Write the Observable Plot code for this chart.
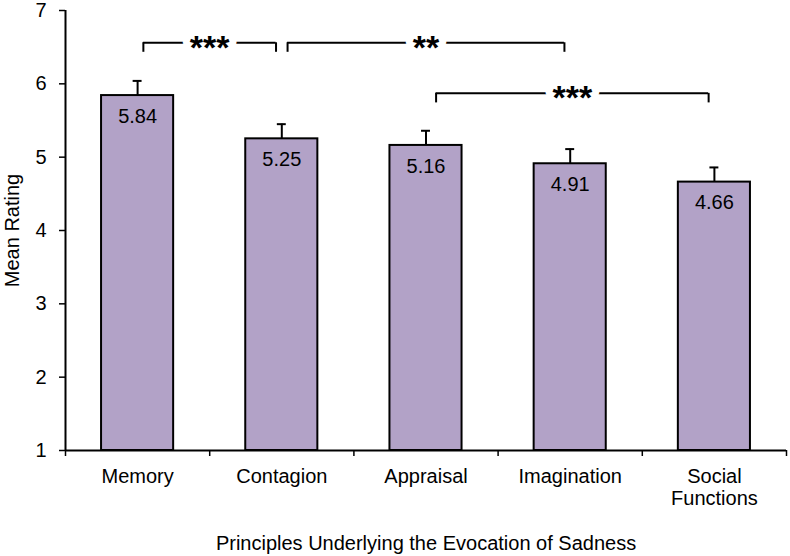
<!DOCTYPE html>
<html>
<head>
<meta charset="utf-8">
<script src="https://cdn.jsdelivr.net/npm/d3@7"></script>
<script src="https://cdn.jsdelivr.net/npm/@observablehq/plot@0.6"></script>
<style>
  html, body { margin: 0; padding: 0; background: #fff; }
  #chart { width: 790px; height: 556px; }
</style>
</head>
<body>
<div id="chart"></div>
<script>
// ---- data ----
const categories = ["Memory", "Contagion", "Appraisal", "Imagination", "Social Functions"];
const means = [5.84, 5.25, 5.16, 4.91, 4.66];
const errors = [0.20, 0.20, 0.20, 0.20, 0.20];
const yTicks = [1, 2, 3, 4, 5, 6, 7];
const bracketFrom = ["Memory", "Contagion", "Appraisal"];
const bracketTo = ["Contagion", "Imagination", "Social Functions"];
const bracketLabels = ["***", "**", "***"];
const bracketTier = [0, 0, 1];

// ---- build ----
const data = categories.map((c, i) => ({cat: c, i, mean: means[i], err: errors[i]}));
const idx = c => categories.indexOf(c);
const tierY = [6.56, 5.87];
const tickDrop = 0.13;
const brackets = bracketFrom.map((f, k) => ({
  x1: idx(f) + 0.5 + (bracketTier[k] ? 0.07 : 0.04),
  x2: idx(bracketTo[k]) + 0.5 - 0.04,
  y: tierY[bracketTier[k]],
  label: bracketLabels[k]
}));
const bracketDrops = brackets.flatMap(b => [{x: b.x1, y: b.y}, {x: b.x2, y: b.y}]);
const starSize = 34;
const capHalf = 0.031;
const fs = 20;

const chart = Plot.plot({
  width: 790,
  height: 556,
  marginLeft: 65,
  marginRight: 4,
  marginTop: 10,
  marginBottom: 106,
  style: {fontFamily: "'Liberation Sans', Arial, sans-serif", color: "black", background: "white"},
  x: {type: "linear", domain: [0, categories.length]},
  y: {domain: [1, 7]},
  marks: [
    Plot.rectY(data, {
      x1: d => d.i + 0.25, x2: d => d.i + 0.75, y1: 1, y2: "mean",
      fill: "#b2a2c7", stroke: "black", strokeWidth: 2
    }),
    Plot.ruleX(data, {x: d => d.i + 0.5, y1: "mean", y2: d => d.mean + d.err, stroke: "black", strokeWidth: 2}),
    Plot.ruleY(data, {y: d => d.mean + d.err, x1: d => d.i + 0.5 - capHalf, x2: d => d.i + 0.5 + capHalf, stroke: "black", strokeWidth: 2}),
    Plot.text(data, {
      x: d => d.i + 0.5, y: "mean", text: d => d.mean.toFixed(2),
      lineAnchor: "top", dy: 13, fontSize: fs, fill: "black"
    }),
    // brackets
    Plot.ruleY(brackets, {y: "y", x1: "x1", x2: "x2", stroke: "black", strokeWidth: 2}),
    Plot.ruleX(bracketDrops, {x: "x", y1: "y", y2: d => d.y - tickDrop, stroke: "black", strokeWidth: 2}),
    Plot.text(brackets, {
      x: d => (d.x1 + d.x2) / 2, y: "y", text: "label",
      fontSize: starSize, fontWeight: "bold", fill: "black",
      stroke: "white", strokeWidth: 14, paintOrder: "stroke",
      dy: starSize * 0.15
    }),
    // axes
    Plot.axisY({ticks: yTicks, tickFormat: "d", tickSize: 6, tickPadding: 13, fontSize: fs, label: null, stroke: "black", strokeWidth: 1.5}),
    Plot.axisX({ticks: d3.range(0, categories.length + 1), tickSize: 6, tickFormat: () => "", label: null, stroke: "black", strokeWidth: 1.5}),
    Plot.ruleX([0], {stroke: "black", strokeWidth: 2}),
    Plot.ruleY([1], {stroke: "black", strokeWidth: 2}),
    Plot.text(data, {
      x: d => d.i + 0.5, y: 1, text: "cat", lineWidth: 6, lineHeight: 1.1,
      lineAnchor: "top", dy: 17, fontSize: fs, fill: "black"
    }),
    Plot.text(["Mean Rating"], {frameAnchor: "left", rotate: -90, dx: -53, fontSize: fs, fill: "black", textAnchor: "middle"}),
    Plot.text(["Principles Underlying the Evocation of Sadness"], {
      frameAnchor: "bottom", lineAnchor: "middle", dy: 93, fontSize: fs, fill: "black"
    })
  ]
});
document.getElementById("chart").appendChild(chart);
</script>
</body>
</html>
